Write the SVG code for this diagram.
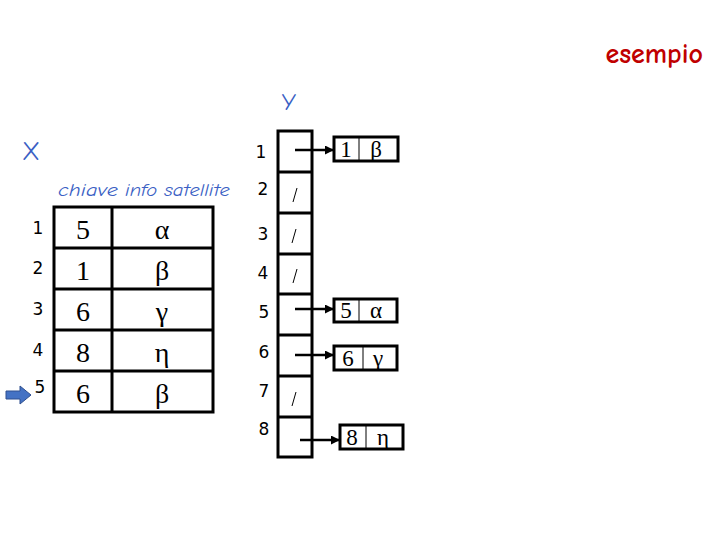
<svg xmlns="http://www.w3.org/2000/svg" width="720" height="540" viewBox="0 0 720 540">
<style>
.blue{fill:#3b5fc4;font-family:"Comic Neue","DejaVu Sans",sans-serif}
.lbl{font-family:"DejaVu Sans",sans-serif;font-size:17px;fill:#000;text-anchor:middle}
.big{font-family:"Liberation Serif",serif;font-size:28px;fill:#000;text-anchor:middle}
.sm{font-family:"Liberation Serif",serif;font-size:23px;fill:#000;text-anchor:middle}
.cell{fill:#fff;stroke:#000;stroke-width:3}
.ln{stroke:#000;stroke-width:3}
.thin{stroke:#000;stroke-width:1}
.conn{stroke:#000;stroke-width:2.5;fill:none;marker-end:url(#ah)}
</style>
<defs>
<marker id="ah" markerWidth="9" markerHeight="9" refX="8" refY="4.5" orient="auto" markerUnits="userSpaceOnUse">
<path d="M0,0 L9,4.5 L0,9 z" fill="#000"/>
</marker>
</defs>
<rect width="720" height="540" fill="#fff"/>
<text x="703" y="63" text-anchor="end" font-family="'Comic Neue','DejaVu Sans',sans-serif" font-weight="bold" font-size="28" fill="#c00000">esempio</text>
<g id="X">
<text x="31" y="160" class="blue" font-size="26" text-anchor="middle">X</text>
<text x="58" y="196" class="blue" font-size="18" font-style="italic" textLength="60" lengthAdjust="spacingAndGlyphs">chiave</text>
<text x="125" y="196" class="blue" font-size="18" font-style="italic" textLength="105" lengthAdjust="spacingAndGlyphs">info satellite</text>
<rect x="54" y="207" width="159" height="205" class="cell"/>
<line x1="112" y1="207" x2="112" y2="412" class="ln"/>
<line x1="54" y1="248" x2="213" y2="248" class="ln"/>
<line x1="54" y1="289" x2="213" y2="289" class="ln"/>
<line x1="54" y1="330" x2="213" y2="330" class="ln"/>
<line x1="54" y1="371" x2="213" y2="371" class="ln"/>
<text x="38" y="234" class="lbl">1</text>
<text x="38" y="274" class="lbl">2</text>
<text x="38" y="315" class="lbl">3</text>
<text x="38" y="356" class="lbl">4</text>
<text x="40" y="393" class="lbl">5</text>
<text x="83" y="239" class="big">5</text>
<text x="83" y="280" class="big">1</text>
<text x="83" y="321" class="big">6</text>
<text x="83" y="362" class="big">8</text>
<text x="83" y="403" class="big">6</text>
<text x="162" y="239" class="big">α</text>
<text x="162" y="280" class="big">β</text>
<text x="162" y="321" class="big">γ</text>
<text x="162" y="362" class="big">η</text>
<text x="162" y="403" class="big">β</text>
<path d="M6,391 L20,391 L20,386 L31,395 L20,404 L20,399 L6,399 z" fill="#4472c4" stroke="#2f4f8f" stroke-width="1"/>
</g>
<g id="Y">
<text x="289" y="110" class="blue" font-size="24" text-anchor="middle">Y</text>
<rect x="278" y="131" width="34" height="326" class="cell"/>
<line x1="278" y1="172" x2="312" y2="172" class="ln"/>
<line x1="278" y1="213" x2="312" y2="213" class="ln"/>
<line x1="278" y1="254" x2="312" y2="254" class="ln"/>
<line x1="278" y1="294" x2="312" y2="294" class="ln"/>
<line x1="278" y1="335" x2="312" y2="335" class="ln"/>
<line x1="278" y1="376" x2="312" y2="376" class="ln"/>
<line x1="278" y1="417" x2="312" y2="417" class="ln"/>
<text x="261" y="158" class="lbl">1</text>
<text x="263" y="195" class="lbl">2</text>
<text x="263" y="240" class="lbl">3</text>
<text x="263" y="279" class="lbl">4</text>
<text x="264" y="318" class="lbl">5</text>
<text x="264" y="358" class="lbl">6</text>
<text x="264" y="397" class="lbl">7</text>
<text x="264" y="435" class="lbl">8</text>
<line x1="293" y1="202" x2="297" y2="188" class="thin"/>
<line x1="292" y1="243" x2="296" y2="229" class="thin"/>
<line x1="293" y1="283" x2="297" y2="269" class="thin"/>
<line x1="292" y1="406" x2="296" y2="392" class="thin"/>
</g>
<g id="n1">
<rect x="334" y="137" width="64" height="24" class="cell"/>
<line x1="359" y1="137" x2="359" y2="161" class="thin"/>
<text x="346" y="157" class="sm">1</text>
<text x="376" y="157" class="sm">β</text>
</g>
<g id="n5">
<rect x="334" y="299" width="63" height="23" class="cell"/>
<line x1="359" y1="299" x2="359" y2="322" class="thin"/>
<text x="346" y="318" class="sm">5</text>
<text x="376" y="318" class="sm">α</text>
</g>
<g id="n6">
<rect x="334" y="346" width="63" height="24" class="cell"/>
<line x1="363" y1="346" x2="363" y2="370" class="thin"/>
<text x="348" y="366" class="sm">6</text>
<text x="378" y="366" class="sm">γ</text>
</g>
<g id="n8">
<rect x="340" y="425" width="63" height="24" class="cell"/>
<line x1="366" y1="425" x2="366" y2="449" class="thin"/>
<text x="352" y="445" class="sm">8</text>
<text x="383" y="445" class="sm">η</text>
</g>
<g id="connectors">
<line x1="295" y1="150" x2="333" y2="150" class="conn"/>
<line x1="295" y1="309" x2="333" y2="309" class="conn"/>
<line x1="295" y1="355" x2="333" y2="355" class="conn"/>
<line x1="300" y1="440" x2="339" y2="440" class="conn"/>
</g>
</svg>
